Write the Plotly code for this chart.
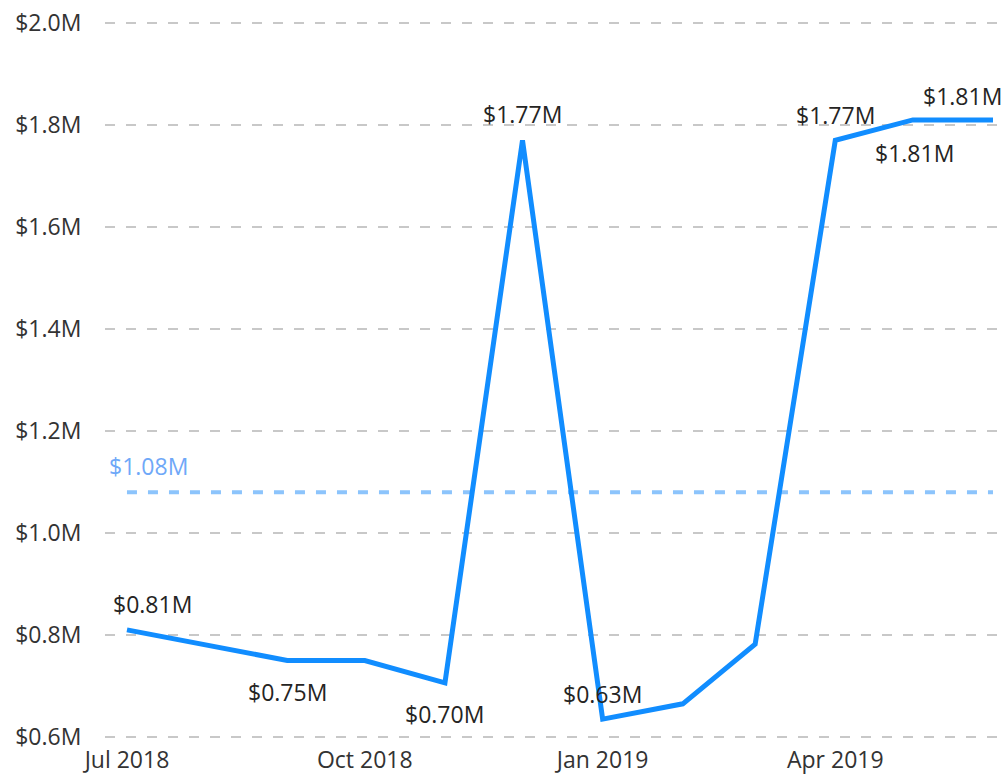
import plotly.graph_objects as go

months = ["2018-07-01", "2018-08-01", "2018-09-01", "2018-10-01", "2018-11-01", "2018-12-01",
          "2019-01-01", "2019-02-01", "2019-03-01", "2019-04-01", "2019-05-01", "2019-06-01"]
values = [0.81, 0.78, 0.75, 0.75, 0.706, 1.77, 0.635, 0.665, 0.782, 1.77, 1.81, 1.81]
average = 1.08
average_label = "$1.08M"

tick_dates = ["2018-07-01", "2018-10-01", "2019-01-01", "2019-04-01"]
tick_text = ["Jul 2018", "Oct 2018", "Jan 2019", "Apr 2019"]
y_ticks = [0.6, 0.8, 1.0, 1.2, 1.4, 1.6, 1.8, 2.0]
y_tick_text = ["$0.6M", "$0.8M", "$1.0M", "$1.2M", "$1.4M", "$1.6M", "$1.8M", "$2.0M"]

# data labels: (index, label, xshift, yshift)
label_idx = [0, 2, 4, 5, 6, 9, 10, 11]
label_text = ["$0.81M", "$0.75M", "$0.70M", "$1.77M", "$0.63M", "$1.77M", "$1.81M", "$1.81M"]
label_dx = [26, 0, 0, 0, 0, 0, 2, -31]
label_dy = [26, -32, -31, 26, 25, 25, -33, 24]

FONT = "Open Sans"
TXT = "#252423"
FS = 23

fig = go.Figure()
fig.add_trace(go.Scatter(
    x=[months[0], months[-1]], y=[average, average], mode="lines",
    line=dict(color="#8CC4FC", width=4, dash="10px,11px"), hoverinfo="skip", showlegend=False))
fig.add_trace(go.Scatter(
    x=months, y=values, mode="lines",
    line=dict(color="#118DFF", width=5), showlegend=False))

for i, t, dx, dy in zip(label_idx, label_text, label_dx, label_dy):
    fig.add_annotation(x=months[i], y=values[i], text=t, showarrow=False,
                       xshift=dx, yshift=dy, font=dict(family=FONT, size=FS, color=TXT))

fig.add_annotation(xref="paper", x=0.002, y=average, text=average_label, showarrow=False,
                   xanchor="left", yshift=26, font=dict(family=FONT, size=FS, color="#6FA8F8"))

fig.update_layout(
    width=1005, height=776,
    margin=dict(l=105, r=5, t=22, b=38, autoexpand=False),
    plot_bgcolor="white", paper_bgcolor="white",
    font=dict(family=FONT, size=FS, color="#333333"),
)
fig.update_xaxes(
    type="date", range=["2018-06-22 12:00", "2019-06-03 17:00"],
    tickvals=tick_dates, ticktext=tick_text, showgrid=False, zeroline=False,
    ticks="outside", ticklen=1, tickcolor="rgba(0,0,0,0)", showline=False, automargin=False,
    ticklabeloverflow="allow",
    tickfont=dict(family=FONT, size=FS, color="#333333"))
fig.update_yaxes(
    range=[0.598, 2.002], tickvals=y_ticks, ticktext=y_tick_text,
    showgrid=True, gridcolor="#C8C8C8", gridwidth=1.5, griddash="10px,11px",
    zeroline=False, showline=False, automargin=False,
    ticks="outside", ticklen=18, tickcolor="rgba(0,0,0,0)",
    ticklabeloverflow="allow",
    tickfont=dict(family=FONT, size=FS, color="#333333"))

fig.write_html("out.html", config={"displayModeBar": False},
               post_script="document.body.style.margin='0px';")
